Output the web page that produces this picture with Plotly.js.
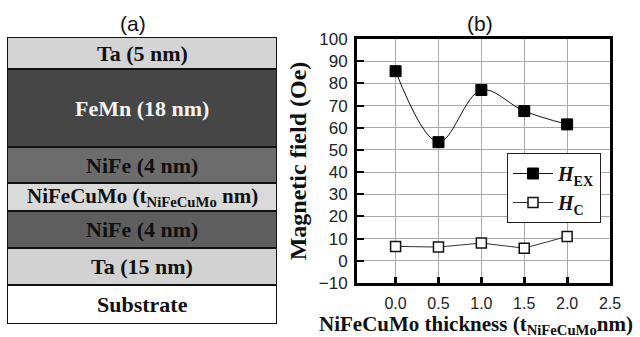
<!DOCTYPE html>
<html>
<head>
<meta charset="utf-8">
<script src="https://cdn.plot.ly/plotly-3.0.1.min.js"></script>
<style>html,body{margin:0;padding:0;background:#fff;}#chart{width:640px;height:337px;}</style>
</head>
<body>
<div id="chart"></div>
<script>
// Panel (b) data
const thickness = [0.0, 0.5, 1.0, 1.5, 2.0];
const hEx = [85.5, 53.5, 77.0, 67.5, 61.5];
const hC = [6.5, 6.2, 8.0, 5.7, 11.0];
const xTickVals = [0.0, 0.5, 1.0, 1.5, 2.0, 2.5];
const xTickText = ['0.0', '0.5', '1.0', '1.5', '2.0', '2.5'];

// Panel (a) layer stack (bottom to top)
const layerNames = ['Substrate', 'Ta (15 nm)', 'NiFe (4 nm)', 'NiFeCuMo (t<sub>NiFeCuMo</sub> nm)', 'NiFe (4 nm)', 'FeMn (18 nm)', 'Ta (5 nm)'];
const layerHeights = [39, 37, 37, 28, 36, 78, 32];
const layerColors = ['#ffffff', '#d2d2d2', '#5e5e5e', '#dadada', '#6c6c6c', '#464646', '#d4d4d4'];
const layerTextColors = ['#111', '#111', '#111', '#111', '#111', '#f4f4f4', '#111'];

const W = 640, H = 337;
const serif = 'Times New Roman, Liberation Serif, serif';
const sans = 'Arial, Liberation Sans, sans-serif';

const traces = [];
const annotations = [];
let cum = 0;
layerNames.forEach((name, i) => {
  traces.push({
    type: 'bar', x: [0], y: [layerHeights[i]], width: 1,
    xaxis: 'x2', yaxis: 'y2',
    marker: {color: layerColors[i], line: {color: '#111', width: 2}},
    showlegend: false, hoverinfo: 'skip', cliponaxis: false
  });
  annotations.push({
    xref: 'x2', yref: 'y2', x: 0, y: cum + layerHeights[i] / 2,
    text: '<b>' + name + '</b>', showarrow: false,
    font: {family: serif, size: (i === 3 ? 21 : 22), color: layerTextColors[i]},
    xanchor: 'center', yanchor: 'middle'
  });
  cum += layerHeights[i];
});
const totalH = cum;

traces.push({
  type: 'scatter', mode: 'lines+markers', x: thickness, y: hEx,
  name: '<b><i>H</i><sub>EX</sub></b>',
  line: {color: '#111', width: 1, shape: 'spline', smoothing: 1},
  marker: {symbol: 'square', size: 11, color: '#000', line: {color: '#000', width: 1}}
});
traces.push({
  type: 'scatter', mode: 'lines+markers', x: thickness, y: hC,
  name: '<b><i>H</i><sub>C</sub></b>',
  line: {color: '#333', width: 1},
  marker: {symbol: 'square', size: 10, color: '#fff', line: {color: '#111', width: 1.5}}
});

annotations.push({xref: 'paper', yref: 'paper', x: 133 / W, y: 1 - 23 / H, text: '(a)', showarrow: false,
  font: {family: sans, size: 21, color: '#111'}, xanchor: 'center', yanchor: 'middle'});
annotations.push({xref: 'paper', yref: 'paper', x: 480 / W, y: 1 - 23 / H, text: '(b)', showarrow: false,
  font: {family: sans, size: 21, color: '#111'}, xanchor: 'center', yanchor: 'middle'});
// x-axis title placed as annotation so it can sit slightly left of the plot centre like the reference
annotations.push({xref: 'paper', yref: 'paper', x: 476 / W, y: 1 - 325 / H,
  text: '<b>NiFeCuMo thickness (t<sub>NiFeCuMo</sub>nm)</b>', showarrow: false,
  font: {family: serif, size: 21, color: '#111'}, xanchor: 'center', yanchor: 'middle'});

const layout = {
  width: W, height: H,
  margin: {l: 0, r: 0, t: 0, b: 0},
  paper_bgcolor: '#fff', plot_bgcolor: '#fff',
  barmode: 'stack',
  showlegend: true,
  xaxis: {
    domain: [357 / W, 610 / W], range: [-0.45, 2.5],
    tickvals: xTickVals, ticktext: xTickText,
    ticks: 'inside', ticklen: 6, tickwidth: 3, tickcolor: '#000',
    showline: true, linewidth: 3, linecolor: '#000', mirror: true,
    showgrid: true, gridcolor: '#a8a8a8', gridwidth: 1, zeroline: false,
    tickfont: {family: sans, size: 16, color: '#222'},
    ticklabelstandoff: 4,
    automargin: false, fixedrange: true
  },
  yaxis: {
    domain: [1 - 283 / H, 1 - 39 / H], range: [-10, 100], dtick: 10, tick0: 0,
    ticks: 'inside', ticklen: 7, tickwidth: 2, tickcolor: '#000',
    showline: true, linewidth: 3, linecolor: '#000', mirror: true,
    showgrid: true, gridcolor: '#a8a8a8', gridwidth: 1, zeroline: false,
    tickfont: {family: sans, size: 17, color: '#222'},
    ticklabelstandoff: 3,
    title: {text: '<b>Magnetic field (Oe)</b>', font: {family: serif, size: 24, color: '#111'}, standoff: 6},
    automargin: false, fixedrange: true
  },
  xaxis2: {domain: [7 / W, 277 / W], range: [-0.5, 0.5], visible: false, fixedrange: true, anchor: 'y2'},
  yaxis2: {domain: [1 - 324 / H, 1 - 37 / H], range: [0, totalH], visible: false, fixedrange: true, anchor: 'x2'},
  legend: {
    x: 507 / W, y: 1 - 153 / H, xanchor: 'left', yanchor: 'top',
    bgcolor: '#fff', bordercolor: '#222', borderwidth: 1,
    font: {family: serif, size: 20, color: '#111'},
    traceorder: 'normal', itemwidth: 40, tracegroupgap: 0
  },
  annotations: annotations
};

Plotly.newPlot('chart', traces, layout, {displayModeBar: false, staticPlot: true});
</script>
</body>
</html>
